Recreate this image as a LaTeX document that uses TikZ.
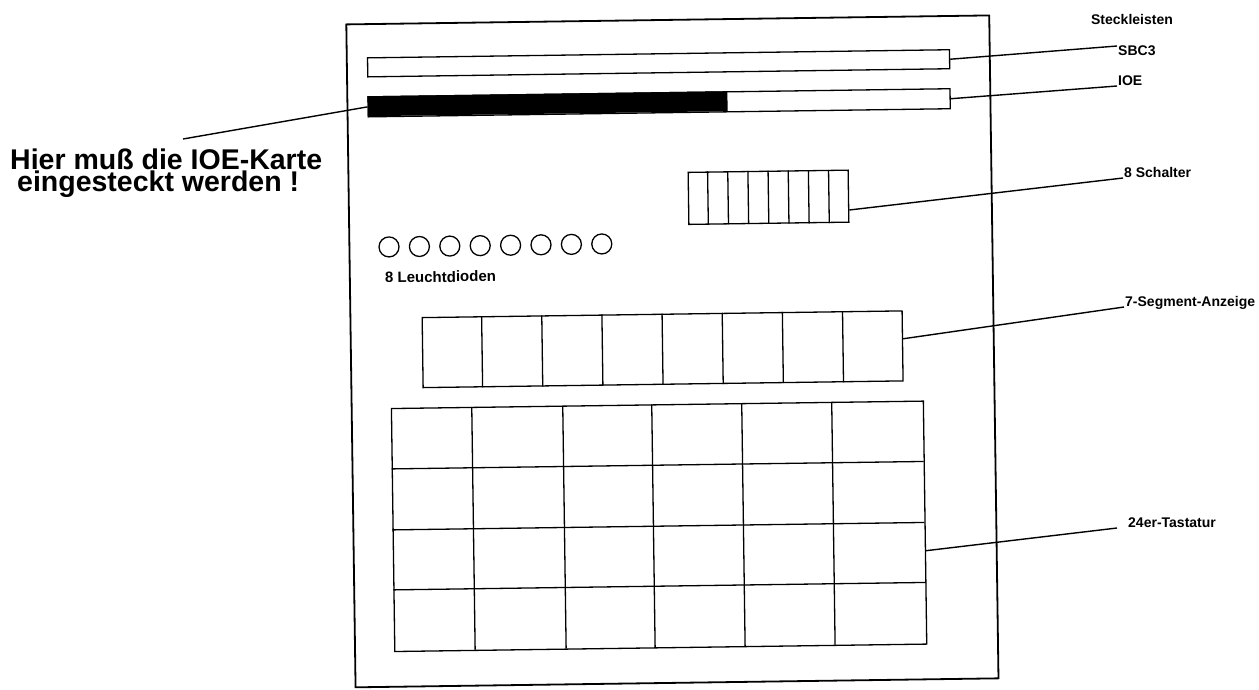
\documentclass[tikz,border=0pt]{standalone}
\usepackage{fontspec}
\setmainfont{Liberation Sans}
\usetikzlibrary{calc}
\begin{document}
\begin{tikzpicture}[x=1pt,y=-1pt,
  lw/.style={line width=1.3pt},
  part/.style={draw, line width=1.3pt, inner sep=0pt, anchor=north west, transform shape},
  led/.style={draw, circle, line width=1.3pt, minimum size=20pt, inner sep=0pt, transform shape},
  lbl/.style={font=\fontsize{14}{16}\selectfont\bfseries, inner sep=0pt, anchor=base west},
  lead/.style={line width=1.4pt},
  big/.style={font=\fontsize{28.5}{30}\selectfont\bfseries, inner sep=0pt, anchor=base west}]
\useasboundingbox (0,0) rectangle (1259,689);
\fill[white] (0,0) rectangle (1259,689);

\begin{scope}[rotate around={0.8:(670,352)}]
  % board
  \node[part, line width=1.8pt, minimum width=643pt, minimum height=663pt] (board) at (350,19) {};
  % connector strips
  \node[part, minimum width=582pt, minimum height=19pt] (sbc) at (371,53) {};
  \fill (371,92) rectangle (731,112);
  \node[part, minimum width=582pt, minimum height=20pt] (ioe) at (371,92) {};
  % switches
  \node[part, minimum width=160pt, minimum height=52pt] (sw) at (690,172) {};
  \foreach \i in {1,...,7}
    \draw[lw] ($(sw.north west)!\i/8!(sw.north east)$) -- ($(sw.south west)!\i/8!(sw.south east)$);
  % LEDs
  \foreach \i in {1,...,8}
    \node[led] (led\i) at ({390.5+30.4*(\i-1)},243) {};
  \node[lbl, transform shape, font=\fontsize{15}{17}\selectfont\bfseries] (lleds) at (386,279) {8 Leuchtdioden};
  % 7-segment display
  \node[part, minimum width=480pt, minimum height=70pt] (seg) at (422,313.5) {};
  \foreach \i in {1,...,7}
    \draw[lw] ($(seg.north west)!\i/8!(seg.north east)$) -- ($(seg.south west)!\i/8!(seg.south east)$);
  % keypad
  \node[part, minimum width=532pt, minimum height=243pt] (kp) at (390,404) {};
  \foreach \c in {471,562,651,741,831}
    \draw[lw] (\c,404) -- (\c,647);
  \foreach \r in {465,526,586}
    \draw[lw] (390,\r) -- (922,\r);
\end{scope}

% labels
\node[lbl, anchor=base] (lsteck) at (1132,24) {Steckleisten};
\node[lbl] (lsbc) at (1118,55) {SBC3};
\node[lbl] (lioe) at (1118,85) {IOE};
\node[lbl] (lsw) at (1124,177) {8 Schalter};
\node[lbl] (lseg) at (1125,306) {7-Segment-Anzeige};
\node[lbl] (lkp) at (1128,527) {24er-Tastatur};
\node[big] (hier1) at (10,169) {Hier muß die IOE-Karte};
\node[big] (hier2) at (17,191) {eingesteckt werden !};

% free ends of the leaders
\coordinate (sbcEnd) at (1117,46);
\coordinate (ioeEnd) at (1117,86);
\coordinate (swEnd) at (1123,178);
\coordinate (segEnd) at (1124,307);
\coordinate (kpEnd) at (1117,528);
\coordinate (hierEnd) at (183,139);

% leaders
\draw[lead] (sbc.east) -- (sbcEnd);
\draw[lead] (ioe.east) -- (ioeEnd);
\draw[lead] ($(sw.north east)!0.76!(sw.south east)$) -- (swEnd);
\draw[lead] ($(seg.north east)!0.4!(seg.south east)$) -- (segEnd);
\draw[lead] ($(kp.north east)!0.615!(kp.south east)$) -- (kpEnd);
\draw[lead] (hierEnd) -- (ioe.west);
\end{tikzpicture}
\end{document}
